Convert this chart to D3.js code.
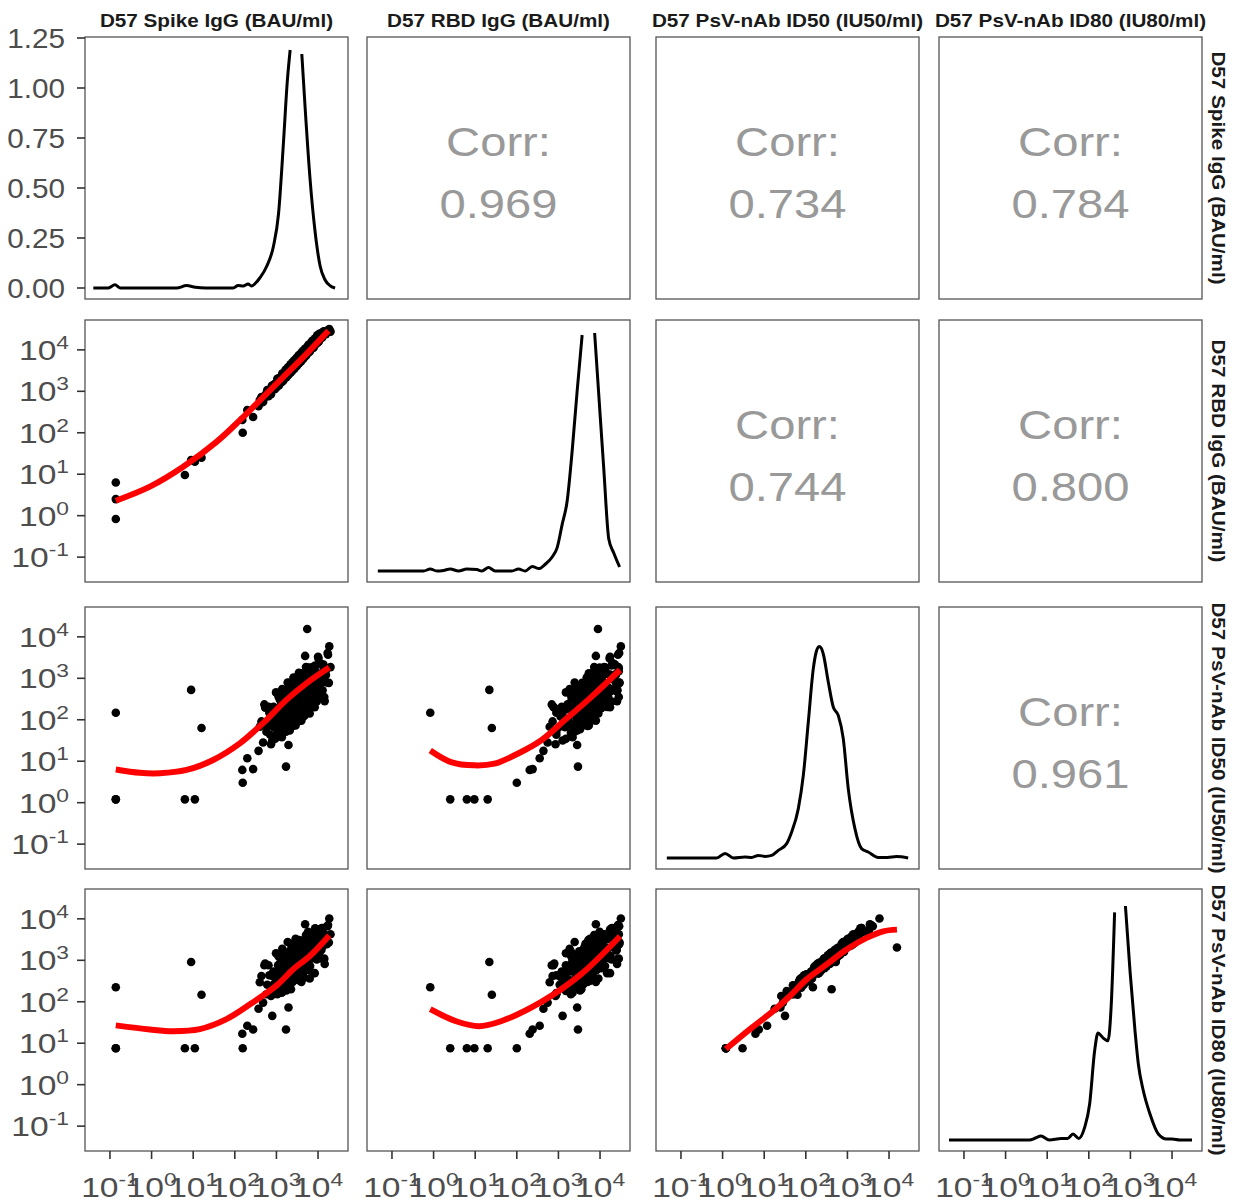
<!DOCTYPE html>
<html>
<head>
<meta charset="utf-8">
<script src="https://cdn.jsdelivr.net/npm/d3@7"></script>
<style>
  body { margin: 0; background: #fff; }
  svg { display: block; }
</style>
</head>
<body>
<div id="chart"></div>
<script>
// ---- data (log10 of each readout, one entry per subject) ----
const varNames = ["D57 Spike IgG (BAU/ml)", "D57 RBD IgG (BAU/ml)",
                  "D57 PsV-nAb ID50 (IU50/ml)", "D57 PsV-nAb ID80 (IU80/ml)"];

const spikeLog = [-0.86, -0.86, -0.86, 0.80, 0.95, 1.04, 1.20, 2.19, 2.18, 2.30, 2.44, 3.23, 3.29, 3.74, 3.69, 4.27, 3.35, 2.90,
  2.60, 2.68, 2.73, 2.78, 2.83, 2.87, 2.91, 2.94, 2.96, 2.99,
  3.02, 3.04, 3.06, 3.08, 3.10, 3.11, 3.13, 3.14, 3.15, 3.16,
  3.18, 3.19, 3.20, 3.21, 3.22, 3.23, 3.24, 3.25, 3.26, 3.27,
  3.28, 3.28, 3.29, 3.30, 3.31, 3.31, 3.32, 3.33, 3.34, 3.34,
  3.35, 3.36, 3.36, 3.37, 3.38, 3.39, 3.39, 3.40, 3.41, 3.41,
  3.42, 3.43, 3.43, 3.44, 3.44, 3.45, 3.46, 3.46, 3.47, 3.48,
  3.49, 3.49, 3.50, 3.51, 3.51, 3.52, 3.53, 3.53, 3.54, 3.54,
  3.55, 3.56, 3.57, 3.57, 3.58, 3.59, 3.60, 3.61, 3.61, 3.62,
  3.63, 3.64, 3.64, 3.65, 3.66, 3.67, 3.68, 3.69, 3.70, 3.71,
  3.72, 3.73, 3.74, 3.75, 3.77, 3.78, 3.80, 3.81, 3.82, 3.83,
  3.84, 3.86, 3.88, 3.89, 3.91, 3.92, 3.94, 3.96, 3.98, 4.00,
  4.02, 4.04, 4.06, 4.09, 4.11, 4.14, 4.16, 4.19, 4.23, 4.26,
  4.30,
  2.57, 2.64, 2.71, 2.76, 2.81, 2.85, 2.89, 2.93, 2.97, 3.00,
  3.03, 3.05, 3.07, 3.09, 3.12, 3.14, 3.16, 3.17, 3.19, 3.21,
  3.22, 3.24, 3.25, 3.26, 3.27, 3.29, 3.30, 3.31, 3.32, 3.33,
  3.35, 3.36, 3.37, 3.38, 3.39, 3.40, 3.40, 3.42, 3.43, 3.44,
  3.45, 3.46, 3.47, 3.48, 3.48, 3.50, 3.50, 3.52, 3.53, 3.54,
  3.55, 3.56, 3.56, 3.58, 3.59, 3.60, 3.62, 3.63, 3.64, 3.65,
  3.66, 3.68, 3.69, 3.70, 3.72, 3.73, 3.75, 3.76, 3.78, 3.79,
  3.81, 3.83, 3.85, 3.87, 3.89, 3.90, 3.93, 3.95, 3.97, 3.99,
  4.01, 4.03, 4.05, 4.08, 4.10, 4.13, 4.15, 4.18, 4.21, 4.24];

const rbdLog = [-0.08, 0.40, 0.80, 0.98, 1.34, 1.30, 1.40, 2.00, 2.31, 2.55, 2.38, 3.47, 3.45, 3.95, 3.90, 4.50, 3.55, 3.10,
  2.79, 2.74, 2.90, 3.03, 2.95, 2.93, 3.14, 3.16, 3.05, 3.18,
  3.30, 3.18, 3.14, 3.32, 3.34, 3.22, 3.34, 3.43, 3.30, 3.25,
  3.43, 3.43, 3.32, 3.43, 3.52, 3.39, 3.34, 3.51, 3.51, 3.39,
  3.50, 3.58, 3.45, 3.41, 3.58, 3.57, 3.45, 3.56, 3.65, 3.51,
  3.46, 3.63, 3.62, 3.50, 3.61, 3.70, 3.56, 3.52, 3.69, 3.68,
  3.56, 3.67, 3.75, 3.62, 3.56, 3.73, 3.73, 3.60, 3.71, 3.80,
  3.67, 3.61, 3.79, 3.79, 3.66, 3.77, 3.86, 3.72, 3.67, 3.83,
  3.83, 3.71, 3.82, 3.90, 3.77, 3.72, 3.90, 3.90, 3.77, 3.88,
  3.97, 3.84, 3.78, 3.95, 3.95, 3.83, 3.94, 4.03, 3.91, 3.86,
  4.03, 4.03, 3.91, 4.02, 4.12, 3.99, 3.96, 4.13, 4.13, 4.01,
  4.12, 4.22, 4.10, 4.05, 4.24, 4.24, 4.13, 4.25, 4.35, 4.24,
  4.20, 4.38, 4.39, 4.29, 4.42, 4.45, 4.41, 4.38, 4.46, 4.47,
  4.44,
  2.64, 2.86, 2.84, 2.95, 2.88, 2.95, 3.13, 3.08, 3.18, 3.09,
  3.15, 3.31, 3.23, 3.31, 3.22, 3.27, 3.43, 3.34, 3.42, 3.32,
  3.36, 3.52, 3.43, 3.50, 3.38, 3.43, 3.59, 3.50, 3.57, 3.45,
  3.50, 3.65, 3.56, 3.63, 3.51, 3.56, 3.70, 3.62, 3.69, 3.57,
  3.61, 3.76, 3.67, 3.74, 3.61, 3.67, 3.81, 3.73, 3.80, 3.68,
  3.72, 3.87, 3.77, 3.85, 3.73, 3.78, 3.94, 3.85, 3.92, 3.80,
  3.84, 4.00, 3.91, 3.99, 3.88, 3.92, 4.08, 3.99, 4.07, 3.95,
  4.01, 4.17, 4.09, 4.17, 4.06, 4.11, 4.28, 4.20, 4.28, 4.17,
  4.23, 4.39, 4.31, 4.40, 4.30, 4.36, 4.45, 4.45, 4.46, 4.43];

const id50Log = [2.17, 0.08, 0.08, 0.08, 2.72, 0.08, 1.80, 0.48, 0.79, 1.07, 0.81, 0.87, 1.39, 4.19, 3.54, 3.77, 2.62, 1.50,
  1.83, 1.45, 2.29, 1.83, 2.17, 1.41, 2.29, 1.82, 2.08, 2.66,
  1.68, 2.25, 2.02, 2.49, 1.85, 2.36, 1.58, 2.19, 2.70, 1.95,
  2.32, 1.88, 2.69, 2.20, 2.50, 1.71, 2.57, 2.08, 2.34, 2.90,
  1.91, 2.46, 2.21, 2.67, 2.03, 2.53, 1.74, 2.35, 2.86, 2.11,
  2.47, 2.02, 2.82, 2.33, 2.64, 1.85, 2.70, 2.21, 2.47, 3.02,
  2.02, 2.58, 2.33, 2.79, 2.14, 2.65, 1.86, 2.46, 2.97, 2.23,
  2.58, 2.13, 2.94, 2.45, 2.75, 1.96, 2.82, 2.32, 2.58, 3.13,
  2.14, 2.69, 2.45, 2.90, 2.26, 2.77, 1.98, 2.59, 3.09, 2.34,
  2.70, 2.26, 3.06, 2.57, 2.88, 2.09, 2.95, 2.45, 2.71, 3.27,
  2.28, 2.84, 2.60, 3.06, 2.42, 2.93, 2.15, 2.76, 3.26, 2.52,
  2.88, 2.45, 3.27, 2.77, 3.09, 2.30, 3.17, 2.68, 2.95, 3.52,
  2.53, 3.10, 2.87, 3.34, 2.71, 3.24, 2.45, 3.08, 3.61, 2.89,
  3.27,
  1.25, 1.96, 2.37, 1.71, 2.31, 1.64, 1.97, 2.31, 1.54, 2.17,
  1.89, 2.56, 2.03, 1.69, 2.37, 2.74, 2.05, 2.61, 1.93, 2.25,
  2.55, 1.77, 2.38, 2.09, 2.75, 2.21, 1.87, 2.53, 2.89, 2.20,
  2.77, 2.07, 2.38, 2.69, 1.90, 2.51, 2.21, 2.87, 2.33, 1.99,
  2.65, 3.01, 2.32, 2.88, 2.18, 2.49, 2.79, 2.01, 2.62, 2.33,
  2.99, 2.44, 2.09, 2.76, 3.12, 2.43, 2.99, 2.30, 2.61, 2.92,
  2.13, 2.75, 2.45, 3.11, 2.58, 2.24, 2.91, 3.26, 2.58, 3.14,
  2.46, 2.77, 3.09, 2.31, 2.92, 2.63, 3.31, 2.78, 2.44, 3.11,
  3.48, 2.79, 3.36, 2.69, 3.00, 3.33, 2.55, 3.17, 2.90, 3.57];

const id80Log = [2.35, 0.88, 0.88, 0.88, 2.96, 0.88, 2.17, 0.88, 1.23, 1.42, 1.33, 1.33, 1.86, 3.31, 3.87, 4.01, 2.30, 1.66,
  2.47, 1.98, 2.92, 2.41, 2.64, 2.14, 2.68, 2.43, 2.60, 3.17,
  2.18, 2.88, 2.57, 2.92, 2.51, 2.74, 2.22, 2.69, 3.21, 2.41,
  2.94, 2.45, 3.09, 2.81, 2.86, 2.33, 3.01, 2.68, 2.74, 3.44,
  2.47, 2.89, 2.82, 3.00, 2.61, 2.98, 2.39, 2.75, 3.40, 2.64,
  2.90, 2.66, 3.13, 2.86, 3.07, 2.48, 3.05, 2.85, 2.95, 3.37,
  2.66, 2.92, 2.86, 3.20, 2.73, 3.00, 2.55, 2.94, 3.32, 2.84,
  2.92, 2.69, 3.33, 2.99, 3.09, 2.64, 3.25, 2.77, 3.13, 3.39,
  2.70, 3.12, 2.99, 3.22, 2.89, 3.20, 2.48, 3.14, 3.36, 2.87,
  3.13, 2.83, 3.35, 3.15, 3.30, 2.58, 3.45, 2.81, 3.18, 3.61,
  2.85, 3.16, 3.18, 3.45, 2.86, 3.43, 2.56, 3.23, 3.60, 3.05,
  3.20, 3.05, 3.63, 3.15, 3.57, 2.69, 3.57, 3.11, 3.42, 3.74,
  3.12, 3.49, 3.24, 3.78, 3.03, 3.63, 2.91, 3.53, 3.82, 3.43,
  3.63,
  1.83, 2.62, 2.88, 2.18, 2.88, 2.21, 2.63, 2.73, 2.26, 2.71,
  2.34, 3.10, 2.55, 2.40, 2.78, 3.28, 2.61, 2.95, 2.56, 2.73,
  3.13, 2.27, 2.97, 2.65, 3.07, 2.80, 2.41, 3.11, 3.23, 2.82,
  3.22, 2.49, 2.94, 3.11, 2.58, 2.90, 2.83, 3.31, 2.71, 2.61,
  3.07, 3.52, 2.74, 3.40, 2.72, 2.85, 3.29, 2.53, 3.19, 2.75,
  3.49, 2.94, 2.51, 3.27, 3.47, 3.03, 3.31, 2.91, 3.09, 3.21,
  2.73, 3.16, 3.04, 3.41, 3.14, 2.77, 3.20, 3.69, 3.01, 3.63,
  2.86, 3.30, 3.50, 2.69, 3.40, 3.06, 3.77, 3.13, 3.02, 3.51,
  3.69, 3.29, 3.68, 3.25, 3.32, 3.78, 3.04, 3.42, 3.39, 3.85];

// density curves on the diagonal: [log10 value, density]; null = above the panel
const spikeDensity = [[-1.40, 0], [-1.05, 0], [-0.88, 0.016], [-0.75, 0], [0.60, 0], [0.84, 0.012], [1.05, 0.004],
  [1.30, 0], [1.96, 0], [2.08, 0.012], [2.20, 0.01], [2.32, 0.02], [2.40, 0.01], [2.50, 0.025], [2.60, 0.05],
  [2.77, 0.11], [2.93, 0.21], [3.05, 0.37], [3.17, 0.73], [3.26, 1.03], [3.33, 1.19], [3.47, null], [3.61, 1.17],
  [3.69, 0.90], [3.81, 0.54], [3.93, 0.28], [4.05, 0.11], [4.17, 0.04], [4.30, 0.01], [4.41, 0]];
const rbdDensity = [[-1.34, 0], [-0.24, 0], [-0.08, 0.01], [0.08, 0], [0.24, 0.003], [0.40, 0.01], [0.60, 0],
  [0.80, 0.01], [1.04, 0.007], [1.16, 0], [1.32, 0.017], [1.48, 0], [1.88, 0], [2.04, 0.01], [2.20, 0],
  [2.37, 0.023], [2.53, 0.012], [2.69, 0.035], [2.85, 0.07], [2.97, 0.117], [3.09, 0.233], [3.21, 0.35],
  [3.33, 0.60], [3.45, 0.90], [3.57, 1.18], [3.72, null], [3.87, 1.19], [3.97, 0.88], [4.09, 0.51],
  [4.21, 0.16], [4.33, 0.09], [4.47, 0.02]];
const id50Density = [[-1.34, 0], [-0.14, 0], [0.06, 0.023], [0.26, 0], [0.54, 0.005], [0.70, 0.003], [0.86, 0.013],
  [1.02, 0.008], [1.18, 0.013], [1.34, 0.038], [1.54, 0.072], [1.66, 0.13], [1.82, 0.247], [1.94, 0.413],
  [2.06, 0.68], [2.18, 0.947], [2.25, 1.03], [2.32, 1.058], [2.37, 1.05], [2.42, 1.02], [2.54, 0.88],
  [2.66, 0.755], [2.78, 0.713], [2.90, 0.597], [3.02, 0.347], [3.18, 0.147], [3.34, 0.047], [3.50, 0.03],
  [3.74, 0.003], [3.96, 0.003], [4.18, 0.007], [4.46, 0]];
const id80Density = [[-1.36, 0], [0.57, 0], [0.72, 0.01], [0.85, 0.02], [1.05, 0], [1.34, 0.008], [1.49, 0.008],
  [1.62, 0.03], [1.76, 0.008], [1.90, 0.063], [2.02, 0.18], [2.14, 0.446], [2.22, 0.535], [2.33, 0.513],
  [2.46, 0.496], [2.54, 0.68], [2.62, 1.138], [2.75, null], [2.88, 1.17], [2.99, 0.846], [3.11, 0.546],
  [3.19, 0.38], [3.31, 0.246], [3.47, 0.13], [3.67, 0.03], [3.87, 0.005], [4.00, 0.005], [4.19, 0], [4.48, 0]];

// smoothing lines in the lower panels: [log10 x, log10 y]
const smoothRbdSpike = [[-0.86, 0.36], [-0.04, 0.70], [0.76, 1.18], [1.56, 1.78], [2.13, 2.31], [2.61, 2.79],
  [3.17, 3.35], [3.73, 3.91], [4.25, 4.46]];
const smoothId50Spike = [[-0.86, 0.80], [-0.28, 0.72], [0.20, 0.71], [0.84, 0.79], [1.48, 1.03], [2.12, 1.43],
  [2.68, 1.92], [3.24, 2.48], [3.72, 2.88], [4.27, 3.26]];
const smoothId80Spike = [[-0.86, 1.43], [-0.04, 1.33], [0.52, 1.29], [1.16, 1.34], [1.80, 1.58], [2.44, 1.99],
  [3.00, 2.39], [3.41, 2.79], [3.81, 3.11], [4.27, 3.60]];
const smoothId50Rbd = [[-0.08, 1.26], [0.42, 0.98], [0.98, 0.90], [1.46, 0.94], [2.02, 1.18], [2.58, 1.50],
  [3.14, 1.98], [3.78, 2.54], [4.48, 3.20]];
const smoothId80Rbd = [[-0.08, 1.82], [0.54, 1.53], [1.09, 1.41], [1.62, 1.53], [2.58, 1.99], [3.54, 2.66],
  [4.48, 3.58]];
const smoothId80Id50 = [[0.08, 0.86], [0.66, 1.34], [1.22, 1.78], [1.62, 2.14], [2.02, 2.54], [2.50, 2.90],
  [2.98, 3.26], [3.46, 3.54], [3.86, 3.70], [4.19, 3.74]];

// correlations in the upper panels, row by row
const corrValues = ["0.969", "0.734", "0.784", "0.744", "0.800", "0.961"];

const logTicks = [0.1, 1, 10, 100, 1000, 10000];
const logTickExp = ["-1", "0", "1", "2", "3", "4"];
const densTicks = [0, 0.25, 0.5, 0.75, 1, 1.25];
const densTickLabels = ["0.00", "0.25", "0.50", "0.75", "1.00", "1.25"];

// ---- layout ----
const W = 1239, H = 1203;
const colLeft = [85, 367, 656, 939];
const rowTop = [37, 320, 607, 889];
const PW = 263, PH = 262;
const FONT = "'Liberation Sans', Arial, Helvetica, sans-serif";
const AXIS_GREY = "#4d4d4d";

const vars = [spikeLog, rbdLog, id50Log, id80Log];
const densities = [spikeDensity, rbdDensity, id50Density, id80Density];
const smooths = {
  "1-0": smoothRbdSpike, "2-0": smoothId50Spike, "3-0": smoothId80Spike,
  "2-1": smoothId50Rbd, "3-1": smoothId80Rbd, "3-2": smoothId80Id50
};

const svg = d3.select("#chart").append("svg")
  .attr("width", W).attr("height", H)
  .style("font-family", FONT);

svg.append("rect").attr("width", W).attr("height", H).attr("fill", "#fff");

function xScale(c) {
  return d3.scaleLog().domain([Math.pow(10, -1.6), Math.pow(10, 4.72)])
    .range([colLeft[c], colLeft[c] + PW]);
}
function yScale(r) {
  return d3.scaleLog().domain([Math.pow(10, -1.6), Math.pow(10, 4.72)])
    .range([rowTop[r] + PH, rowTop[r]]);
}
function densScale(r) {
  return d3.scaleLinear().domain([-0.055, 1.255]).range([rowTop[r] + PH, rowTop[r]]);
}

// "10" with a raised exponent
function powerLabel(text, exp) {
  text.append("tspan").text("10");
  text.append("tspan").attr("dy", -11).attr("font-size", 19).text(exp);
}

let corrIndex = 0;
for (let r = 0; r < 4; r++) {
  for (let c = 0; c < 4; c++) {
    const g = svg.append("g");
    const x = xScale(c);
    const cx = colLeft[c] + PW / 2, cy = rowTop[r] + PH / 2;

    if (r === c) {
      const y = densScale(r);
      const line = d3.line()
        .defined(d => d[1] !== null)
        .x(d => x(Math.pow(10, d[0])))
        .y(d => y(d[1]))
        .curve(d3.curveMonotoneX);
      g.append("path")
        .datum(densities[r])
        .attr("d", line)
        .attr("fill", "none")
        .attr("stroke", "#000")
        .attr("stroke-width", 3)
        .attr("stroke-linejoin", "round");
    } else if (r > c) {
      const y = yScale(r);
      const pts = vars[c].map((v, i) => [v, vars[r][i]]);
      g.selectAll("circle")
        .data(pts)
        .join("circle")
        .attr("cx", d => x(Math.pow(10, d[0])))
        .attr("cy", d => y(Math.pow(10, d[1])))
        .attr("r", 4.3)
        .attr("fill", "#000");
      const smooth = d3.line()
        .x(d => x(Math.pow(10, d[0])))
        .y(d => y(Math.pow(10, d[1])))
        .curve(d3.curveCatmullRom);
      g.append("path")
        .datum(smooths[r + "-" + c])
        .attr("d", smooth)
        .attr("fill", "none")
        .attr("stroke", "#ff0000")
        .attr("stroke-width", 6);
    } else {
      const value = corrValues[corrIndex++];
      g.append("text")
        .attr("transform", "translate(" + cx + "," + (cy - 12) + ") scale(1.18,1)")
        .attr("text-anchor", "middle")
        .attr("font-size", 40)
        .attr("fill", "#999")
        .text("Corr:");
      g.append("text")
        .attr("transform", "translate(" + cx + "," + (cy + 50) + ") scale(1.18,1)")
        .attr("text-anchor", "middle")
        .attr("font-size", 40)
        .attr("fill", "#999")
        .text(value);
    }

    // panel border
    g.append("rect")
      .attr("x", colLeft[c]).attr("y", rowTop[r])
      .attr("width", PW).attr("height", PH)
      .attr("fill", "none")
      .attr("stroke", "#555")
      .attr("stroke-width", 1.3);
  }
}

// column titles and row strips
varNames.forEach(function (name, i) {
  svg.append("text")
    .attr("transform", "translate(" + (colLeft[i] + PW / 2) + ",27) scale(1.15,1)")
    .attr("text-anchor", "middle")
    .attr("font-size", 18)
    .attr("font-weight", "bold")
    .attr("fill", "#1a1a1a")
    .text(name);
  svg.append("text")
    .attr("transform", "translate(1212," + (rowTop[i] + PH / 2) + ") rotate(90) scale(1.15,1)")
    .attr("text-anchor", "middle")
    .attr("font-size", 18)
    .attr("font-weight", "bold")
    .attr("fill", "#1a1a1a")
    .text(name);
});

// left axis: density scale in the first row, log scale below
const axisLeft = svg.append("g");
const yd = densScale(0);
densTicks.forEach(function (t, i) {
  axisLeft.append("line")
    .attr("x1", colLeft[0] - 8).attr("x2", colLeft[0])
    .attr("y1", yd(t)).attr("y2", yd(t))
    .attr("stroke", "#333").attr("stroke-width", 1.6);
  axisLeft.append("text")
    .attr("transform", "translate(" + (colLeft[0] - 20) + "," + (yd(t) + 10) + ") scale(1.1,1)")
    .attr("text-anchor", "end")
    .attr("font-size", 27)
    .attr("fill", AXIS_GREY)
    .text(densTickLabels[i]);
});
for (let r = 1; r < 4; r++) {
  const y = yScale(r);
  logTicks.forEach(function (t, i) {
    axisLeft.append("line")
      .attr("x1", colLeft[0] - 8).attr("x2", colLeft[0])
      .attr("y1", y(t)).attr("y2", y(t))
      .attr("stroke", "#333").attr("stroke-width", 1.6);
    const txt = axisLeft.append("text")
      .attr("transform", "translate(" + (colLeft[0] - 16) + "," + (y(t) + 10) + ") scale(1.2,1)")
      .attr("text-anchor", "end")
      .attr("font-size", 28)
      .attr("fill", AXIS_GREY);
    powerLabel(txt, logTickExp[i]);
  });
}

// bottom axis under every column
const axisBottom = svg.append("g");
const bottomY = rowTop[3] + PH;
for (let c = 0; c < 4; c++) {
  const x = xScale(c);
  logTicks.forEach(function (t, i) {
    axisBottom.append("line")
      .attr("x1", x(t)).attr("x2", x(t))
      .attr("y1", bottomY).attr("y2", bottomY + 8)
      .attr("stroke", "#333").attr("stroke-width", 1.6);
    const txt = axisBottom.append("text")
      .attr("transform", "translate(" + x(t) + "," + (bottomY + 46) + ") scale(1.2,1)")
      .attr("text-anchor", "middle")
      .attr("font-size", 28)
      .attr("fill", AXIS_GREY);
    powerLabel(txt, logTickExp[i]);
  });
}
</script>
</body>
</html>
